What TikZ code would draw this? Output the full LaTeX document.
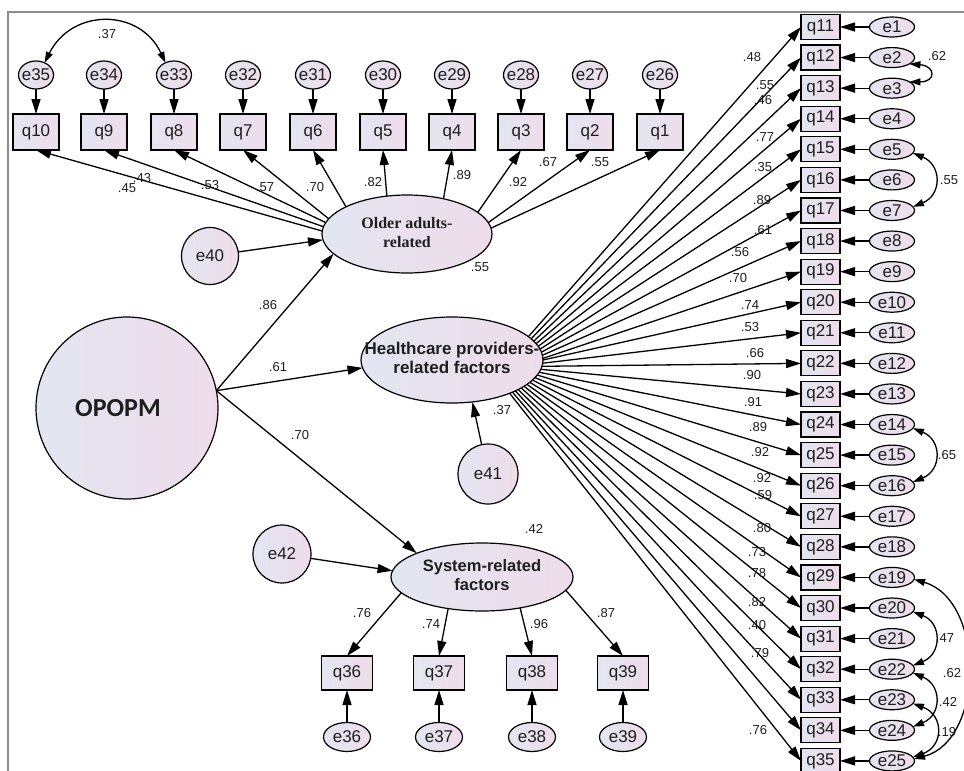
\documentclass[tikz,border=0pt]{standalone}
\usepackage{fontspec}
\setmainfont{Liberation Sans}
\newfontfamily\serifx{Liberation Serif}
\newfontfamily\opfont{Carlito}
\usetikzlibrary{shapes.geometric,arrows.meta}
\newcommand{\zw}[1]{\makebox[0pt]{#1}}
\definecolor{shL}{RGB}{226,230,241}
\definecolor{shR}{RGB}{239,220,234}
\definecolor{frameg}{RGB}{140,140,140}
\definecolor{txt}{RGB}{30,30,30}
\begin{document}
\begin{tikzpicture}[x=1pt,y=-1pt,
  every node/.style={inner sep=0pt,outer sep=0pt,text=txt},
  sh/.style={draw=black,line width=1.2pt,left color=shL,right color=shR},
  vfont/.style={font=\fontsize{17}{19}\selectfont},
  obs/.style={sh,vfont,rectangle,minimum width=46pt,minimum height=36pt},
  obsr/.style={sh,vfont,rectangle,minimum width=39pt,minimum height=25pt},
  obsb/.style={sh,vfont,rectangle,minimum width=51pt,minimum height=34pt},
  errt/.style={sh,vfont,ellipse,minimum width=35pt,minimum height=28pt},
  errr/.style={sh,vfont,ellipse,minimum width=45pt,minimum height=20pt},
  errb/.style={sh,vfont,ellipse,minimum width=47pt,minimum height=29pt},
  errc/.style={sh,vfont,circle,minimum size=58pt},
  lat/.style={sh,ellipse},
  coef/.style={font=\fontsize{13}{15}\selectfont},
  arr/.style={line width=1.3pt,-{Triangle[length=15pt,width=9pt]}},
  cov/.style={line width=1.3pt,{Triangle[length=11pt,width=7pt]}-{Triangle[length=11pt,width=7pt]}},
]
\useasboundingbox (0,0) rectangle (964,771);
\fill[white] (0,0) rectangle (964,771);
\draw[frameg,line width=1.5pt] (8,771) -- (8,12) -- (964,12);

% latent variables
\node[lat,minimum width=182pt,minimum height=182pt,circle] (OP) at (127,408)
  {\zw{\opfont\bfseries\fontsize{26}{28}\selectfont OPOPM\hspace*{18pt}}};
\node[lat,minimum width=170pt,minimum height=78pt] (O) at (407,234)
  {\zw{\serifx\bfseries\fontsize{16}{19}\selectfont\begin{tabular}{@{}c@{}}Older adults-\\related\end{tabular}}};
\node[lat,minimum width=182pt,minimum height=86pt] (H) at (452,360)
  {\zw{\bfseries\fontsize{17}{19}\selectfont\begin{tabular}{@{}c@{}}Healthcare providers-\\related factors\end{tabular}}};
\node[lat,minimum width=182pt,minimum height=68pt] (S) at (482,577)
  {\zw{\bfseries\fontsize{16.5}{19}\selectfont\begin{tabular}{@{}c@{}}System-related\\factors\end{tabular}}};

\node[errc,minimum size=57pt] (e40) at (210,256) {e40};
\node[errc,minimum size=60pt] (e41) at (488,474) {e41};
\node[errc] (e42) at (282,554) {e42};

\draw[arr] (OP.11) -- (O.195);
\draw[arr] (OP.11) -- (H.185);
\draw[arr] (OP.11) -- (S.160);
\draw[arr] (e40) -- (O.184);
\draw[arr] (e41) -- (H.296);
\draw[arr] (e42) -- (S.176);

\node[coef] (c86) at (268,305) {.86};
\node[coef] (c61) at (278,367) {.61};
\node[coef] (c70) at (300,435) {.70};
\node[coef] (r55) at (480,267) {.55};
\node[coef] (r37) at (502,410) {.37};
\node[coef] (r42) at (534,529) {.42};

% top indicators
\foreach \n/\xx/\ang in {10/36/178,9/104/175,8/174/172,7/243/169,6/313/156,5/383/118,4/452/44,3/521/17,2/590/8,1/660/4}{
  \pgfmathtruncatemacro\en{\n+25}
  \node[obs] (q\n) at (\xx,132) {q\n};
  \node[errt] (e\en) at (\xx,75) {\zw{e\en}};
  \draw[arr] (e\en) -- (q\n);
  \draw[arr] (O.\ang) -- (q\n.south);
}
\foreach \lab/\lx/\ly [count=\c] in {.45/127/188,.43/142/178,.53/210/185,.57/265/187,.70/315/187,.82/373/182,.89/462/175,.92/518/182,.67/548/162,.55/600/162}{
  \node[coef] (t\c) at (\lx,\ly) {\lab};
}
\draw[cov] (e35.55) .. controls (72,8) and (140,8) .. (e33.125);
\node[coef] (c37) at (107,34) {.37};

% right indicators
\foreach \i/\lab/\lx/\ly in {1/.48/752/57,2/.55/765/85,3/.46/763/100,4/.77/765/137,5/.35/763/167,6/.89/762/200,7/.61/763/230,8/.56/740/252,9/.70/738/278,10/.74/750/305,11/.53/750/327,12/.66/755/353,13/.90/752/375,14/.91/753/402,15/.89/758/427,16/.92/760/452,17/.92/762/478,18/.59/763/495,19/.80/762/528,20/.73/757/552,21/.78/757/573,22/.82/757/602,23/.40/757/625,24/.79/760/653,25/.76/758/730}{
  \pgfmathsetmacro\yy{27+(\i-1)*30.58}
  \pgfmathtruncatemacro\qi{\i+10}
  \pgfmathtruncatemacro\ang{17-(\i-1)*47/24}
  \ifnum\ang<0 \pgfmathtruncatemacro\ang{\ang+360}\fi
  \node[obsr] (q\qi) at (820.5,\yy) {q\qi};
  \node[errr] (e\i) at (892,\yy) {\zw{e\i}};
  \draw[arr] (e\i) -- (q\qi);
  \draw[arr] (H.\ang) -- (q\qi.west);
  \node[coef] (r\i) at (\lx,\ly) {\lab};
}

% covariances right
\draw[cov] (e2.-20) .. controls (936,66) and (936,82) .. (e3.20);
\draw[cov] (e5.-10) .. controls (942,165) and (942,195) .. (e7.10);
\draw[cov] (e14.-10) .. controls (942,440) and (942,470) .. (e16.10);
\draw[cov] (e20.-10) .. controls (942,623) and (942,654) .. (e22.10);
\draw[cov] (e22.-10) .. controls (942,685) and (942,715) .. (e24.10);
\draw[cov] (e23.-10) .. controls (944,715) and (944,746) .. (e25.10);
\draw[cov] (e19.-5) .. controls (985,600) and (985,740) .. (e25.5);
\node[coef] (k1) at (937,56) {.62};
\node[coef] (k2) at (949,180) {.55};
\node[coef] (k3) at (947,455) {.65};
\node[coef] (k4) at (945,638) {.47};
\node[coef] (k5) at (948,702) {.42};
\node[coef] (k6) at (947,732) {.19};
\node[coef] (k7) at (952,673) {.62};

% bottom indicators
\foreach \n/\xx/\ang in {36/347/191,37/439/223,38/532/321,39/623/351}{
  \node[obsb] (q\n) at (\xx,673) {q\n};
  \node[errb] (e\n) at (\xx,737) {\zw{e\n}};
  \draw[arr] (e\n) -- (q\n);
  \draw[arr] (S.\ang) -- (q\n.north);
}
\node[coef] (b1) at (362,613) {.76};
\node[coef] (b2) at (431,624) {.74};
\node[coef] (b3) at (539,624) {.96};
\node[coef] (b4) at (606,613) {.87};
\end{tikzpicture}
\end{document}
